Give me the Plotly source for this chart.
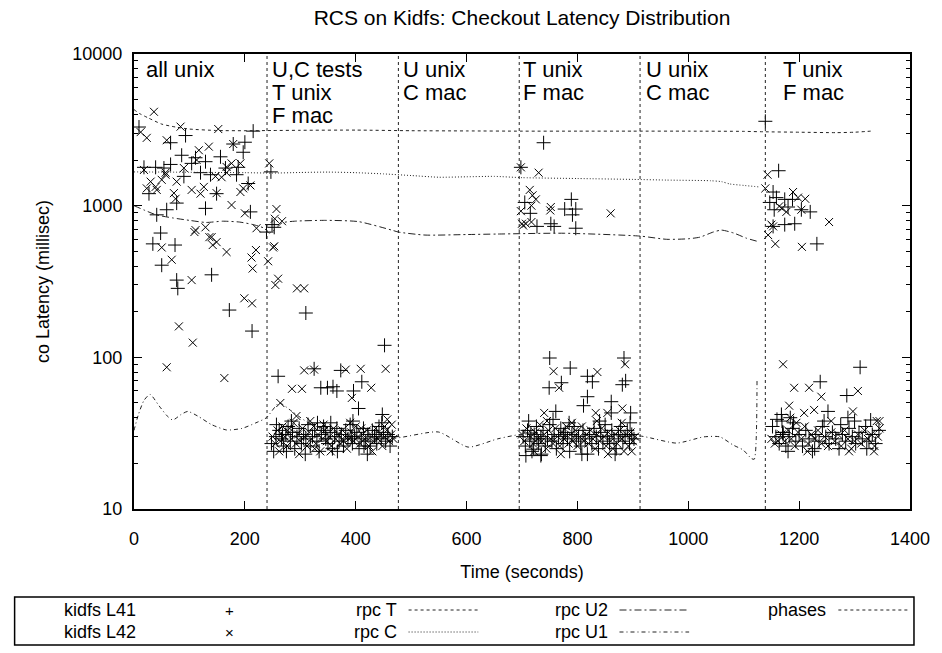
import plotly.graph_objects as go

# ---------------- data ----------------
l41_points = [
    # phase 1 (all unix)
    (9, 3300), (93, 2900), (215, 3100), (66, 2600), (86, 2150), (200, 2620), (179, 2550), (197, 2250),
    (111, 2070), (129, 1950), (156, 2100), (165, 1770), (18, 1790), (39, 1790), (54, 1770), (66, 1870),
    (104, 1900), (90, 1560), (120, 1650), (138, 1600), (185, 1600), (188, 1790), (27, 1200), (77, 1040),
    (149, 1200), (206, 1400), (210, 910), (129, 960), (59, 940), (41, 870), (48, 660), (239, 670),
    (34, 560), (74, 550), (50, 405), (77, 323), (79, 285), (140, 350), (172, 205), (213, 149),
    # phase 2 upper
    (247, 1670), (253, 720), (249, 750), (310, 196), (260, 75), (452, 120), (325, 84), (373, 82),
    (337, 63), (349, 63), (359, 64), (366, 60), (396, 60), (411, 69), (405, 46), (448, 42),
    # phase 2 dense
    (248, 27), (252, 24), (256, 30), (262, 33), (266, 29), (270, 26), (274, 31), (278, 35), (282, 28),
    (286, 32), (290, 25), (294, 30), (298, 34), (302, 27), (306, 31), (310, 29), (314, 36), (318, 26),
    (322, 30), (326, 33), (330, 28), (334, 24), (338, 31), (342, 35), (346, 29), (350, 27), (354, 32),
    (358, 25), (362, 30), (366, 34), (370, 28), (374, 31), (378, 26), (382, 33), (386, 29), (390, 36),
    (394, 27), (398, 30), (402, 32), (406, 25), (410, 29), (414, 34), (418, 28), (422, 31), (426, 26),
    (430, 33), (434, 30), (438, 27), (442, 35), (446, 29), (450, 32), (454, 28), (458, 31), (462, 26),
    (466, 30), (257, 36), (284, 38), (309, 23), (331, 37), (367, 24), (395, 38), (421, 23), (447, 37),
    (275, 24), (355, 37), (415, 26), (268, 31), (345, 33), (392, 30), (437, 31),
    # phase 4 upper
    (739, 2600), (698, 1790), (705, 1050), (715, 890), (777, 950), (789, 1100), (797, 950), (791, 870),
    (727, 730), (752, 760), (758, 730), (797, 710), (750, 99), (787, 85), (818, 75), (884, 99),
    (749, 63), (771, 68), (827, 69), (881, 66), (887, 70), (818, 55), (811, 48), (861, 51), (761, 44),
    (861, 43), (896, 43), (716, 31.7), (707, 22.5), (734, 22.5), (721, 24.8),
    # phase 4 dense
    (702, 30), (706, 26), (710, 33), (714, 28), (718, 24), (722, 31), (726, 35), (730, 27), (734, 30),
    (738, 33), (742, 26), (746, 29), (750, 36), (754, 28), (758, 31), (762, 25), (766, 30), (770, 34),
    (774, 27), (778, 32), (782, 29), (786, 24), (790, 31), (794, 35), (798, 28), (802, 30), (806, 26),
    (810, 33), (814, 29), (818, 23), (822, 31), (826, 27), (830, 34), (834, 30), (838, 25), (842, 32),
    (846, 28), (850, 36), (854, 30), (858, 27), (862, 33), (866, 29), (870, 25), (874, 31), (878, 35),
    (882, 28), (886, 30), (890, 33), (894, 27), (898, 31), (902, 29), (712, 38), (735, 23), (756, 39),
    (785, 37), (808, 23), (840, 38), (868, 23), (895, 37), (727, 29), (775, 31),
    # phase 6 upper
    (1139, 3600), (1163, 1700), (1153, 1230), (1159, 1130), (1174, 1100), (1188, 1100), (1147, 1050),
    (1155, 940), (1180, 980), (1204, 940), (1220, 910), (1153, 730), (1174, 750), (1192, 760),
    (1232, 560), (1310, 86), (1238, 69), (1286, 56), (1252, 44), (1168, 42), (1184, 40), (1169, 38),
    (1329, 38.6), (1288, 40), (1171, 32),
    # phase 6 dense
    (1152, 35), (1158, 30), (1164, 27), (1170, 32), (1176, 26), (1182, 30), (1188, 34), (1194, 28),
    (1200, 31), (1206, 26), (1212, 33), (1218, 29), (1224, 24), (1230, 31), (1236, 28), (1242, 35),
    (1248, 30), (1254, 27), (1260, 32), (1266, 29), (1272, 25), (1278, 31), (1284, 28), (1290, 34),
    (1296, 30), (1302, 27), (1308, 32), (1314, 29), (1320, 35), (1326, 28), (1332, 31), (1338, 27),
    (1344, 33), (1190, 37), (1245, 38), (1300, 38), (1180, 24), (1228, 25), (1275, 36), (1322, 25),
    (1160, 39), (1171, 31),
]

l42_points = [
    # phase 1 (all unix)
    (36, 4160), (12, 3055), (23, 2800), (84, 3320), (152, 3200), (59, 2700), (117, 2320), (135, 2450),
    (179, 2550), (113, 2000), (167, 1800), (176, 1900), (192, 1900), (18, 1720), (57, 1650), (90, 1770),
    (147, 1560), (158, 1540), (167, 1650), (30, 1440), (39, 1330), (50, 1480), (57, 1600), (23, 1300),
    (41, 1270), (77, 1440), (72, 1210), (75, 1110), (104, 1270), (120, 1200), (126, 1330), (149, 1210),
    (192, 1230), (197, 1300), (210, 1360), (176, 1010), (200, 890), (111, 690), (129, 720), (140, 620),
    (221, 710), (109, 670), (136, 620), (142, 550), (149, 575), (167, 495), (50, 530), (68, 440),
    (212, 455), (220, 510), (214, 385), (104, 323), (199, 245), (213, 227), (81, 160), (106, 125),
    (59, 86), (163, 73),
    # phase 2 upper
    (244, 1900), (257, 950), (254, 820), (267, 790), (251, 530), (255, 300), (260, 330), (294, 285),
    (307, 285), (454, 84), (307, 82), (325, 83), (382, 83), (409, 84), (285, 62), (303, 62), (393, 54),
    (428, 63), (264, 50), (293, 41), (457, 39), (242, 430), (253, 540),
    # phase 2 dense
    (250, 30), (255, 27), (259, 33), (264, 28), (268, 35), (272, 30), (276, 26), (280, 32), (284, 29),
    (288, 37), (292, 27), (296, 31), (300, 28), (304, 34), (308, 30), (312, 26), (316, 32), (320, 29),
    (324, 35), (328, 27), (332, 31), (336, 24), (340, 29), (344, 33), (348, 28), (352, 30), (356, 26),
    (360, 34), (364, 29), (368, 31), (372, 27), (376, 33), (380, 30), (384, 25), (388, 29), (392, 32),
    (396, 28), (400, 35), (404, 30), (408, 27), (412, 31), (416, 29), (420, 33), (424, 26), (428, 30),
    (432, 28), (436, 34), (440, 29), (444, 31), (448, 26), (452, 30), (456, 33), (460, 28), (464, 31),
    (468, 29), (262, 24), (298, 23), (318, 38), (355, 24), (390, 37), (430, 24), (465, 36), (281, 34),
    (342, 36), (410, 34), (378, 28), (452, 35), (326, 25),
    # phase 4 upper
    (698, 1790), (730, 1650), (714, 1270), (719, 1170), (725, 1100), (698, 920), (717, 1000), (752, 980),
    (751, 930), (860, 890), (700, 760), (707, 760), (717, 780), (702, 740), (757, 81), (836, 80),
    (886, 90), (767, 63), (740, 43), (833, 43), (854, 43), (881, 46),
    # phase 4 dense
    (700, 31), (704, 28), (708, 34), (716, 30), (720, 27), (724, 32), (728, 29), (732, 36), (736, 28),
    (740, 31), (744, 25), (748, 33), (752, 29), (756, 27), (760, 34), (764, 30), (768, 26), (772, 32),
    (776, 29), (780, 35), (784, 27), (788, 31), (792, 28), (796, 33), (800, 26), (804, 30), (808, 35),
    (812, 28), (816, 31), (820, 27), (824, 33), (828, 29), (832, 25), (836, 31), (840, 28), (844, 34),
    (848, 30), (852, 26), (856, 32), (860, 28), (864, 25), (868, 31), (872, 27), (876, 33), (880, 29),
    (884, 24), (888, 31), (892, 26), (896, 32), (900, 28), (904, 30), (745, 38), (790, 37), (835, 38),
    (880, 37), (722, 24), (770, 23), (898, 24), (855, 23),
    # phase 6 upper
    (1143, 1600), (1139, 1300), (1189, 1230), (1198, 1130), (1211, 1110), (1164, 990), (1169, 960),
    (1177, 910), (1204, 940), (1150, 750), (1153, 730), (1254, 780), (1144, 640), (1157, 560),
    (1205, 535), (1171, 90), (1191, 63), (1218, 63), (1240, 55), (1306, 60), (1182, 48), (1209, 43),
    (1227, 45), (1297, 44), (1184, 40), (1345, 38),
    # phase 6 dense
    (1150, 29), (1156, 27), (1162, 28), (1168, 31), (1174, 28), (1180, 33), (1186, 29), (1192, 26),
    (1198, 32), (1204, 29), (1210, 35), (1216, 27), (1222, 31), (1228, 29), (1234, 33), (1240, 27),
    (1246, 30), (1252, 26), (1258, 32), (1264, 28), (1270, 31), (1276, 26), (1282, 33), (1288, 29),
    (1294, 25), (1300, 28), (1306, 31), (1312, 27), (1318, 33), (1324, 29), (1330, 31), (1336, 26),
    (1342, 30), (1345, 34), (1195, 37), (1258, 38), (1340, 38), (1215, 24), (1290, 24), (1335, 24),
]

rpc_t_x = [0, 10, 25, 50, 75, 100, 150, 200, 250, 300, 400, 500, 600, 700, 800, 900, 1000, 1100,
           1135, 1200, 1266, 1300, 1329]
rpc_t_y = [4300, 4050, 3800, 3450, 3300, 3200, 3130, 3120, 3130, 3140, 3150, 3120, 3110, 3100,
           3100, 3100, 3100, 3090, 3070, 3050, 3030, 3050, 3100]

rpc_c_x = [0, 100, 200, 250, 300, 350, 400, 450, 500, 550, 600, 650, 700, 800, 900, 960, 1040,
           1060, 1075, 1100, 1127]
rpc_c_y = [1670, 1660, 1650, 1640, 1655, 1665, 1650, 1620, 1580, 1540, 1550, 1560, 1530, 1510,
           1490, 1475, 1460, 1440, 1390, 1360, 1330]

rpc_u2_x = [0, 20, 40, 70, 100, 130, 160, 190, 215, 235, 244, 255, 267, 290, 346, 405, 465, 477,
            525, 600, 656, 776, 913, 961, 1000, 1021, 1045, 1060, 1082, 1105, 1126]
rpc_u2_y = [1000, 930, 870, 830, 800, 775, 790, 780, 750, 710, 660, 700, 770, 790, 800, 785, 690,
            670, 640, 645, 650, 658, 630, 600, 605, 620, 670, 690, 660, 610, 580]

rpc_u1_x = [0, 8, 18, 29, 45, 60, 70, 85, 97, 115, 140, 167, 195, 220, 239, 262, 285, 320, 380,
            472, 549, 603, 656, 698, 800, 913, 979, 1028, 1057, 1081, 1099, 1114, 1119, 1124]
rpc_u1_y = [33, 42, 52, 57, 48, 41, 38.6, 42, 44, 41, 36, 33.2, 34, 37, 40, 50, 44, 36, 31,
            29.4, 32.2, 25.6, 29, 31, 30.5, 30.3, 27.2, 29.9, 29.9, 26.4, 24.5, 21.5, 21.3, 73]

phase_x = [240, 477, 695, 913, 1139]
phase_labels = [["all unix"], ["U,C tests", "T unix", "F mac"], ["U unix", "C mac"],
                ["T unix", "F mac"], ["U unix", "C mac"], ["T unix", "F mac"]]
phase_label_x = [18, 245, 482, 699, 920, 1168]

x_tick_vals = [0, 200, 400, 600, 800, 1000, 1200, 1400]
y_tick_vals = [10, 100, 1000, 10000]
y_tick_text = ["10", "100", "1000", "10000"]

legend_names = ["kidfs L41", "kidfs L42", "rpc T", "rpc C", "rpc U2", "rpc U1", "phases"]

# ---------------- styling ----------------
FONT = "Liberation Sans, Arial, Helvetica, sans-serif"
INK = "black"
LINE_INK = "#222222"
dash_t = "3px,3px"
dash_c = "1px,2px"
dash_u2 = "7px,3px,2px,3px"
dash_u1 = "4px,3px,1px,3px"
dash_ph = "3px,3px"

W, H = 942, 653
L, R, T, B = 134, 914, 54, 509


def px_x(px):
    return (px - L) / (R - L)


def px_y(py):
    return (B - py) / (B - T)


fig = go.Figure()

fig.add_trace(go.Scatter(
    x=[p[0] for p in l41_points], y=[p[1] for p in l41_points], mode="markers",
    marker=dict(symbol="cross-thin", size=10, line=dict(width=1, color=INK), color=INK),
    name=legend_names[0], showlegend=False))
fig.add_trace(go.Scatter(
    x=[p[0] for p in l42_points], y=[p[1] for p in l42_points], mode="markers",
    marker=dict(symbol="x-thin", size=8, line=dict(width=1, color=INK), color=INK),
    name=legend_names[1], showlegend=False))

for xs, ys, dash, nm in [(rpc_t_x, rpc_t_y, dash_t, legend_names[2]),
                         (rpc_c_x, rpc_c_y, dash_c, legend_names[3]),
                         (rpc_u2_x, rpc_u2_y, dash_u2, legend_names[4]),
                         (rpc_u1_x, rpc_u1_y, dash_u1, legend_names[5])]:
    fig.add_trace(go.Scatter(x=xs, y=ys, mode="lines",
                             line=dict(color=LINE_INK, width=1, dash=dash, shape="spline", smoothing=0.6),
                             name=nm, showlegend=False))

ph_x, ph_y = [], []
for p in phase_x:
    ph_x += [p, p, None]
    ph_y += [y_tick_vals[0], y_tick_vals[-1], None]
fig.add_trace(go.Scatter(x=ph_x, y=ph_y, mode="lines", line=dict(color=LINE_INK, width=1, dash=dash_ph),
                         name=legend_names[6], showlegend=False))

annotations = []
for lines, xv in zip(phase_labels, phase_label_x):
    for i, txt in enumerate(lines):
        annotations.append(dict(x=xv, y=4, xref="x", yref="y", text=txt, showarrow=False,
                                xanchor="left", yanchor="top", yshift=-1 - 23 * i, align="left",
                                font=dict(family=FONT, size=22, color=INK)))

# legend (gnuplot style box under the plot)
LEG_FS = 18
row_y = [px_y(610), px_y(632)]
legend_cols = [
    (legend_names[0], 138, "m", "+"), (legend_names[1], 138, "m", "\u00d7"),
    (legend_names[2], 400, "l", dash_t), (legend_names[3], 400, "l", dash_c),
    (legend_names[4], 612, "l", dash_u2), (legend_names[5], 612, "l", dash_u1),
    (legend_names[6], 832, "l", dash_ph),
]
shapes = [dict(type="rect", xref="paper", yref="paper", x0=px_x(14), x1=px_x(918),
               y0=px_y(645), y1=px_y(597), line=dict(color=INK, width=1.5))]
for i, (nm, xr, kind, sample) in enumerate(legend_cols):
    ry = row_y[i % 2]
    annotations.append(dict(x=px_x(xr), y=ry, xref="paper", yref="paper", text=nm, showarrow=False,
                            xanchor="right", yanchor="middle", font=dict(family=FONT, size=LEG_FS, color=INK)))
    if kind == "m":
        annotations.append(dict(x=px_x(230), y=ry, xref="paper", yref="paper", text=sample,
                                showarrow=False, xanchor="center", yanchor="middle",
                                font=dict(family=FONT, size=15, color=INK)))
    else:
        shapes.append(dict(type="line", xref="paper", yref="paper", x0=px_x(xr + 10), x1=px_x(xr + 80),
                           y0=ry, y1=ry, line=dict(color=LINE_INK, width=1, dash=sample)))

minor_vals = [m * 10 ** e for e in (1, 2, 3) for m in range(2, 10)]

fig.update_layout(
    width=W, height=H,
    margin=dict(l=L, r=W - R, t=T, b=H - B),
    paper_bgcolor="white", plot_bgcolor="white",
    font=dict(family=FONT, size=17, color=INK),
    title=dict(text="RCS on Kidfs: Checkout Latency Distribution", x=px_x((L + R) / 2), xref="paper",
               xanchor="center", y=1 - 18 / H, yref="container", yanchor="middle",
               font=dict(family=FONT, size=21, color=INK)),
    xaxis=dict(range=[0, 1400], tickvals=x_tick_vals, ticks="inside", ticklen=8, tickwidth=1,
               tickcolor=INK, showline=True, linecolor=INK, linewidth=2, mirror="allticks",
               showgrid=False, zeroline=False, ticklabelstandoff=12,
               tickfont=dict(family=FONT, size=18),
               title=dict(text="Time (seconds)", standoff=18, font=dict(family=FONT, size=18))),
    yaxis=dict(type="log", range=[1, 4], tickvals=y_tick_vals, ticktext=y_tick_text, ticks="inside",
               ticklen=8, tickwidth=1, tickcolor=INK, showline=True, linecolor=INK, linewidth=2,
               mirror="allticks", showgrid=False, zeroline=False, ticklabelstandoff=6,
               tickfont=dict(family=FONT, size=18),
               minor=dict(tickvals=minor_vals, ticks="inside", ticklen=4, tickwidth=1, tickcolor=INK,
                          showgrid=False),
               title=dict(text="co Latency (millisec)", standoff=18, font=dict(family=FONT, size=18))),
    annotations=annotations, shapes=shapes,
)

fig.write_html("out.html")
